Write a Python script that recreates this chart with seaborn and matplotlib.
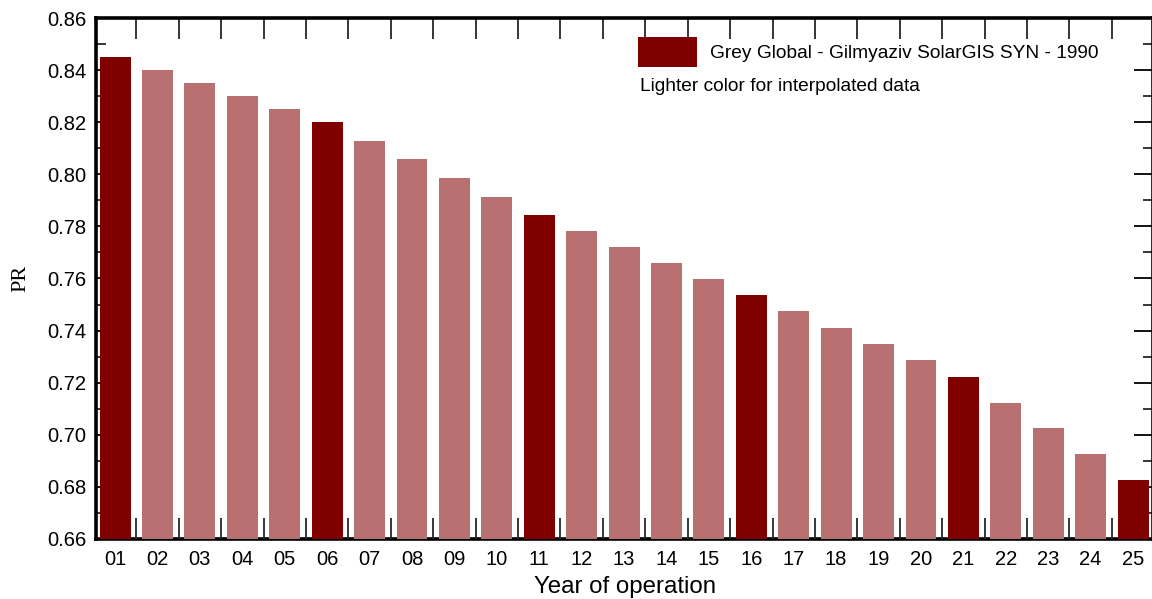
import matplotlib
matplotlib.use("Agg")
import matplotlib.pyplot as plt
import seaborn as sns
import pandas as pd
import numpy as np
from matplotlib.patches import Patch
from matplotlib.ticker import MultipleLocator, FixedLocator

years = ["01", "02", "03", "04", "05", "06", "07", "08", "09", "10",
         "11", "12", "13", "14", "15", "16", "17", "18", "19", "20",
         "21", "22", "23", "24", "25"]
pr_values = [0.845, 0.840, 0.835, 0.830, 0.825, 0.820, 0.8128, 0.8057, 0.7986, 0.7914,
             0.7843, 0.7782, 0.7721, 0.7659, 0.7598, 0.7537, 0.7474, 0.7411, 0.7349, 0.7286,
             0.7222, 0.7123, 0.7025, 0.6925, 0.6828]
kinds = ["measured", "interp", "interp", "interp", "interp", "measured", "interp", "interp", "interp", "interp",
         "measured", "interp", "interp", "interp", "interp", "measured", "interp", "interp", "interp", "interp",
         "measured", "interp", "interp", "interp", "measured"]
legend_label = "Grey Global - Gilmyaziv SolarGIS SYN - 1990"
note_text = "Lighter color for interpolated data"

dark = "#800000"
light = "#b87070"

df = pd.DataFrame({"year": years, "pr": pr_values, "kind": kinds})

sns.set_theme(style="white")
plt.rcParams["font.family"] = ["Liberation Sans", "DejaVu Sans"]

fig = plt.figure(figsize=(11.52, 5.99), dpi=100)
W, H = 1152, 599
ax = fig.add_axes([96 / W, 1 - 539 / H, (1153 - 96) / W, (539 - 18) / H])

sns.barplot(data=df, x="year", y="pr", hue="kind",
            palette={"measured": dark, "interp": light}, saturation=1,
            dodge=False, width=0.73, linewidth=0, legend=False, ax=ax, zorder=1)

ax.set_ylim(0.66, 0.86)
ax.set_xlim(-0.45, 24.47)
ax.set_axisbelow(True)

ax.yaxis.set_major_locator(MultipleLocator(0.02))
ax.yaxis.set_minor_locator(MultipleLocator(0.01))
ax.yaxis.set_major_formatter(matplotlib.ticker.FormatStrFormatter("%.2f"))
ax.xaxis.set_minor_locator(FixedLocator(np.arange(0.5, 24, 1.0)))

ax.tick_params(axis="y", which="major", direction="in", length=14, width=1.3,
               left=True, right=True, labelsize=14.5, pad=7, colors="black")
ax.tick_params(axis="y", which="minor", direction="in", length=7, width=1.3,
               left=True, right=True)
ax.tick_params(axis="x", which="major", length=0, labelsize=14.5, pad=8, colors="black")
ax.tick_params(axis="x", which="minor", direction="in", length=15, width=1.3,
               bottom=True, top=True)

for side in ["left", "top", "bottom", "right"]:
    ax.spines[side].set_visible(True)
    ax.spines[side].set_color("black")
    ax.spines[side].set_linewidth(2.6)
ax.spines["bottom"].set_zorder(0.5)

ax.set_xlabel("Year of operation", fontsize=17.3, labelpad=5, color="black")
ax.set_ylabel("PR", fontsize=16, family=["Liberation Serif", "DejaVu Serif"],
              labelpad=12, color="black")

fs = 13.75
px = fs * 100 / 72
handle = Patch(facecolor=dark, edgecolor="none")
leg = ax.legend([handle], [legend_label], loc="upper left",
                bbox_to_anchor=((638 - 96) / 1057, 1 - (36.7 - 18) / 521),
                frameon=False, fontsize=fs, borderpad=0, borderaxespad=0,
                handlelength=59 / px, handleheight=40 / px,
                handletextpad=13 / px, labelcolor="black")
ax.text((640 - 96) / 1057, 1 - (86.5 - 18) / 521, note_text, transform=ax.transAxes,
        fontsize=fs, ha="left", va="center", color="black")

fig.savefig("out.png", dpi=100)
